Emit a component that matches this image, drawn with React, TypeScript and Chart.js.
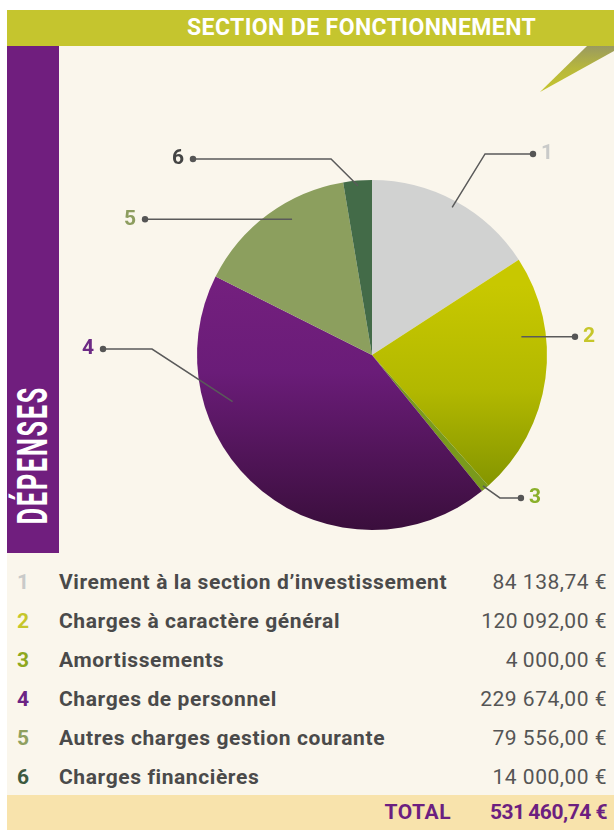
import React, { useEffect, useRef } from "react";
import { Chart, registerables } from "chart.js";
Chart.register(...registerables);

// ---- data ----
const numbers = ["1", "2", "3", "4", "5", "6"];
const categories = [
  "Virement à la section d’investissement",
  "Charges à caractère général",
  "Amortissements",
  "Charges de personnel",
  "Autres charges gestion courante",
  "Charges financières",
];
const values = [84138.74, 120092.0, 4000.0, 229674.0, 79556.0, 14000.0];
const valueLabels = [
  "84 138,74 €",
  "120\u2009092,00 €",
  "4\u2009000,00 €",
  "229 674,00 €",
  "79 556,00 €",
  "14 000,00 €",
];
const totalText = "TOTAL";
const totalValue = "531\u2009460,74 €";
const headerTitle = "SECTION DE FONCTIONNEMENT";
const sideTitle = "DÉPENSES";

// ---- styles ----
const FONT = "Roboto, 'DejaVu Sans', sans-serif";
const sliceSolid = ["#d1d2d1", "#c2c400", "#7a9a1c", "#6a1d7a", "#8c9f5e", "#436b48"];
const pieNumberColors = ["#c9cac9", "#c6c62a", "#8ab02a", "#6c2a84", "#8d9d5f", "#444444"];
const legendNumberColors = ["#c9cac9", "#c6c62a", "#8fa81e", "#6c2484", "#8fa060", "#3d5a3f"];

// leader layout: t = fraction along slice, r = anchor radius factor,
// ex/ey = elbow relative to centre (in radii, null -> anchor), dx = dot x (in radii), side
const leaderLayout = [
  { t: 0.5, r: 0.96, ex: 0.646, ey: -1.149, dx: 0.92, side: 1 },
  { t: 0.32, r: 0.86, ex: null, ey: null, dx: 1.16, side: 1 },
  { t: 0.5, r: 0.98, ex: 0.731, ey: 0.817, dx: 0.851, side: 1 },
  { t: 0.71, r: 0.84, ex: -1.257, ey: -0.034, dx: -1.537, side: -1 },
  { t: 0.61, r: 0.9, ex: null, ey: null, dx: -1.297, side: -1 },
  { t: 0.5, r: 0.97, ex: -0.234, ey: -1.12, dx: -1.023, side: -1 },
];

const leaderPlugin = {
  id: "leaders",
  afterDatasetsDraw(chart: any) {
    const meta = chart.getDatasetMeta(0);
    const c = chart.ctx;
    c.save();
    meta.data.forEach((arc: any, i: number) => {
      const L = leaderLayout[i];
      const p = arc.getProps(["x", "y", "startAngle", "endAngle", "outerRadius"], true);
      const R = p.outerRadius;
      const a = p.startAngle + L.t * (p.endAngle - p.startAngle);
      const ax = p.x + Math.cos(a) * R * L.r;
      const ay = p.y + Math.sin(a) * R * L.r;
      const ex = L.ex === null ? ax : p.x + L.ex * R;
      const ey = L.ey === null ? ay : p.y + L.ey * R;
      const dx = p.x + L.dx * R;
      c.strokeStyle = "#5a5a5a";
      c.lineWidth = 1.5;
      c.beginPath();
      c.moveTo(ax, ay);
      c.lineTo(ex, ey);
      c.lineTo(dx, ey);
      c.stroke();
      c.fillStyle = "#555555";
      c.beginPath();
      c.arc(dx, ey, 3.2, 0, Math.PI * 2);
      c.fill();
      c.font = "bold 21px " + FONT;
      c.fillStyle = pieNumberColors[i];
      c.textBaseline = "middle";
      if (L.side > 0) {
        c.textAlign = "left";
        c.fillText(numbers[i], dx + 8, ey);
      } else {
        c.textAlign = "right";
        c.fillText(numbers[i], dx - 9, ey);
      }
    });
    c.restore();
  },
};

export default function App() {
  const ref = useRef<HTMLCanvasElement | null>(null);
  useEffect(() => {
    if (!ref.current) return;
    const chart = new Chart(ref.current, {
      type: "pie",
      data: {
        labels: categories,
        datasets: [
          {
            data: values,
            borderWidth: 0,
            backgroundColor: (ctx: any) => {
              const i = ctx.dataIndex;
              const ch = ctx.chart;
              const area = ch.chartArea;
              if (!area) return sliceSolid[i];
              if (i === 1) {
                const g = ch.ctx.createLinearGradient(0, area.top, 0, area.bottom);
                g.addColorStop(0.3, "#c8c800");
                g.addColorStop(0.6, "#b2b800");
                g.addColorStop(0.9, "#809200");
                return g;
              }
              if (i === 3) {
                const g = ch.ctx.createLinearGradient(0, area.top, 0, area.bottom);
                g.addColorStop(0.25, "#75207f");
                g.addColorStop(0.55, "#6a1c78");
                g.addColorStop(1, "#3a0e3c");
                return g;
              }
              return sliceSolid[i];
            },
          },
        ],
      },
      options: {
        responsive: false,
        animation: false,
        layout: { padding: { left: 197, right: 67, top: 180, bottom: 300 } },
        plugins: { legend: { display: false }, tooltip: { enabled: false } },
      },
      plugins: [leaderPlugin],
    } as any);
    return () => chart.destroy();
  }, []);

  const rowTop = 563;
  const rowH = 39;
  const txt = { fontSize: 21, letterSpacing: 0.6, whiteSpace: "nowrap" as const };

  return (
    <div style={{ position: "absolute", left: 0, top: 0, width: 614, height: 830, background: "#ffffff", overflow: "hidden", fontFamily: FONT }}>
      <div style={{ position: "absolute", left: 7, top: 46, width: 607, height: 784, background: "#faf6ec" }} />
      <div style={{ position: "absolute", left: 7, top: 10, width: 607, height: 36, background: "#c5c52e" }} />
      <div style={{ position: "absolute", left: 187, top: 10, height: 36, lineHeight: "36px", color: "#ffffff", fontWeight: 700, fontSize: 23, letterSpacing: 0.4, whiteSpace: "nowrap" }}>{headerTitle}</div>
      <svg style={{ position: "absolute", left: 0, top: 0 }} width={614} height={120}>
        <defs>
          <linearGradient id="fold" x1="0" y1="0" x2="0" y2="1">
            <stop offset="0" stopColor="#9a9a60" />
            <stop offset="0.5" stopColor="#b8b83a" />
            <stop offset="1" stopColor="#c5c52e" />
          </linearGradient>
        </defs>
        <polygon points="587,46 614,46 614,51 540,92" fill="url(#fold)" />
      </svg>
      <div style={{ position: "absolute", left: 7, top: 46, width: 52, height: 507, background: "#701e7e" }} />
      <div style={{ position: "absolute", left: 33, top: 455, transform: "translate(-50%,-50%) rotate(-90deg) scaleX(0.6)", color: "#ffffff", fontWeight: 700, fontSize: 42, letterSpacing: 3, lineHeight: 1, whiteSpace: "nowrap" }}>{sideTitle}</div>
      <div style={{ position: "absolute", left: 7, top: 795, width: 607, height: 35, background: "#f8e3ac" }} />
      {categories.map((cat, i) => (
        <React.Fragment key={i}>
          <div style={{ ...txt, position: "absolute", left: 17, top: rowTop + i * rowH, height: rowH, lineHeight: rowH + "px", fontWeight: 700, color: legendNumberColors[i] }}>{numbers[i]}</div>
          <div style={{ ...txt, position: "absolute", left: 59, top: rowTop + i * rowH, height: rowH, lineHeight: rowH + "px", fontWeight: 700, color: "#4a4a4a" }}>{cat}</div>
          <div style={{ ...txt, letterSpacing: 0.5, position: "absolute", right: 7, top: rowTop + i * rowH, height: rowH, lineHeight: rowH + "px", fontWeight: 400, color: "#555555", textAlign: "right" }}>{valueLabels[i]}</div>
        </React.Fragment>
      ))}
      <div style={{ ...txt, letterSpacing: 0.5, position: "absolute", right: 163, top: 795, height: 35, lineHeight: "35px", fontWeight: 700, color: "#6c1f80" }}>{totalText}</div>
      <div style={{ ...txt, letterSpacing: -0.5, position: "absolute", right: 7, top: 795, height: 35, lineHeight: "35px", fontWeight: 700, color: "#6c1f80" }}>{totalValue}</div>
      <canvas ref={ref} width={614} height={830} style={{ position: "absolute", left: 0, top: 0, width: 614, height: 830 }} />
    </div>
  );
}
